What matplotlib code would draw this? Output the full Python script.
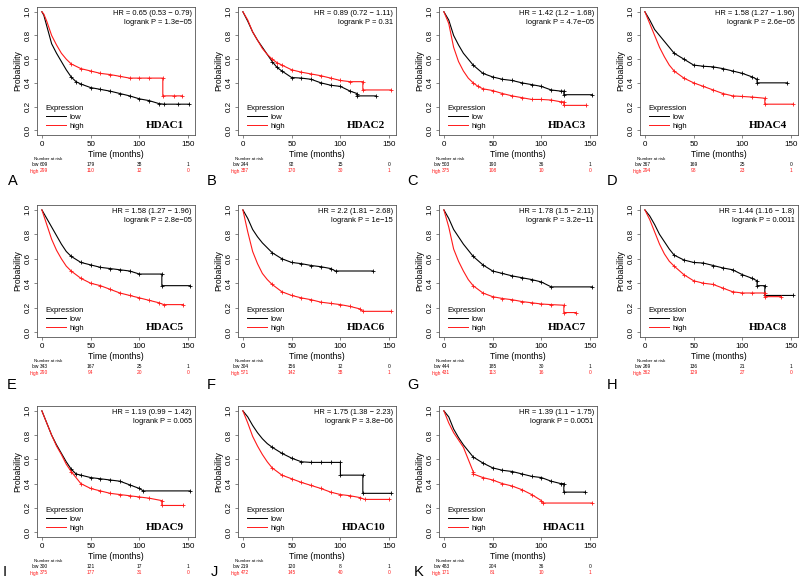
#!/usr/bin/env python3
# -*- coding: utf-8 -*-

import matplotlib
matplotlib.use('Agg')
import matplotlib.pyplot as plt
from matplotlib.lines import Line2D

# --- data -------------------------------------------------------------
genes = ['HDAC1', 'HDAC2', 'HDAC3', 'HDAC4', 'HDAC5', 'HDAC6',
         'HDAC7', 'HDAC8', 'HDAC9', 'HDAC10', 'HDAC11']
letters = ['A', 'B', 'C', 'D', 'E', 'F', 'G', 'H', 'I', 'J', 'K']

hr_text = ['0.65 (0.53 \u2212 0.79)', '0.89 (0.72 \u2212 1.11)', '1.42 (1.2 \u2212 1.68)',
           '1.58 (1.27 \u2212 1.96)', '1.58 (1.27 \u2212 1.96)', '2.2 (1.81 \u2212 2.68)',
           '1.78 (1.5 \u2212 2.11)', '1.44 (1.16 \u2212 1.8)', '1.19 (0.99 \u2212 1.42)',
           '1.75 (1.38 \u2212 2.23)', '1.39 (1.1 \u2212 1.75)']
p_text = ['1.3e\u221205', '0.31', '4.7e\u221205', '2.6e\u221205', '2.8e\u221205', '1e\u221215',
          '3.2e\u221211', '0.0011', '0.065', '3.8e\u221206', '0.0051']

risk_times = [0, 50, 100, 150]
risk_low = [[609, 179, 38, 1], [244, 92, 15, 0], [503, 190, 36, 1], [367, 169, 25, 0],
            [343, 167, 25, 1], [304, 156, 12, 0], [444, 185, 30, 1], [269, 136, 21, 1],
            [300, 121, 17, 1], [219, 120, 8, 1], [483, 204, 36, 0]]
risk_high = [[299, 110, 12, 0], [387, 170, 30, 1], [375, 108, 10, 0], [294, 98, 23, 1],
             [290, 94, 20, 0], [571, 142, 38, 1], [431, 113, 16, 0], [362, 129, 27, 0],
             [375, 177, 31, 0], [472, 145, 40, 0], [171, 81, 10, 1]]

low_t = [
    [0, 2, 5, 10, 15, 20, 25, 30, 35, 40, 50, 60, 70, 80, 90, 100, 110, 120, 125, 140, 151],
    [0, 5, 10, 15, 20, 25, 30, 35, 40, 50, 60, 70, 80, 90, 100, 110, 117, 117, 136],
    [0, 5, 10, 15, 20, 25, 30, 40, 50, 60, 70, 80, 90, 100, 110, 120, 123, 123, 152],
    [0, 5, 10, 15, 20, 25, 30, 40, 50, 60, 70, 80, 90, 100, 110, 115, 115, 146],
    [0, 5, 10, 15, 20, 25, 30, 40, 50, 60, 70, 80, 90, 100, 123, 123, 152],
    [0, 5, 10, 15, 20, 25, 30, 40, 50, 60, 70, 80, 90, 95, 133],
    [0, 5, 10, 15, 20, 25, 30, 40, 50, 60, 70, 80, 90, 100, 110, 152],
    [0, 5, 10, 15, 20, 25, 30, 40, 50, 60, 70, 80, 90, 100, 110, 115, 115, 123, 123, 152],
    [0, 5, 10, 15, 20, 25, 30, 35, 40, 50, 60, 70, 80, 90, 100, 104, 152],
    [0, 5, 10, 15, 20, 25, 30, 40, 50, 60, 70, 80, 90, 100, 100, 123, 123, 152],
    [0, 5, 10, 15, 20, 25, 30, 40, 50, 60, 70, 80, 90, 100, 110, 120, 123, 123, 145],
]
low_s = [
    [1, 0.97, 0.88, 0.73, 0.65, 0.58, 0.51, 0.45, 0.41, 0.39, 0.36, 0.345, 0.33, 0.31, 0.29, 0.265, 0.25, 0.225, 0.22, 0.22, 0.22],
    [1, 0.92, 0.83, 0.76, 0.70, 0.64, 0.58, 0.53, 0.50, 0.445, 0.44, 0.43, 0.40, 0.38, 0.37, 0.33, 0.31, 0.29, 0.29],
    [1, 0.93, 0.80, 0.72, 0.65, 0.60, 0.55, 0.48, 0.45, 0.43, 0.42, 0.40, 0.385, 0.37, 0.34, 0.33, 0.33, 0.30, 0.30],
    [1, 0.93, 0.85, 0.80, 0.75, 0.70, 0.65, 0.60, 0.55, 0.54, 0.535, 0.52, 0.50, 0.48, 0.45, 0.43, 0.40, 0.40],
    [1, 0.93, 0.86, 0.79, 0.72, 0.66, 0.62, 0.57, 0.55, 0.53, 0.52, 0.51, 0.50, 0.475, 0.475, 0.38, 0.38],
    [1, 0.93, 0.84, 0.78, 0.73, 0.69, 0.65, 0.60, 0.57, 0.56, 0.545, 0.535, 0.52, 0.50, 0.50],
    [1, 0.93, 0.84, 0.78, 0.72, 0.67, 0.62, 0.55, 0.50, 0.48, 0.46, 0.445, 0.43, 0.41, 0.37, 0.37],
    [1, 0.95, 0.88, 0.80, 0.74, 0.68, 0.63, 0.59, 0.57, 0.565, 0.545, 0.525, 0.51, 0.47, 0.44, 0.42, 0.38, 0.38, 0.30, 0.30],
    [1, 0.90, 0.80, 0.72, 0.65, 0.58, 0.52, 0.48, 0.47, 0.45, 0.44, 0.43, 0.42, 0.39, 0.36, 0.34, 0.34],
    [1, 0.95, 0.88, 0.82, 0.77, 0.73, 0.70, 0.65, 0.61, 0.58, 0.575, 0.575, 0.575, 0.575, 0.47, 0.47, 0.32, 0.32],
    [1, 0.95, 0.85, 0.78, 0.72, 0.67, 0.62, 0.57, 0.53, 0.51, 0.50, 0.48, 0.46, 0.45, 0.42, 0.40, 0.40, 0.33, 0.33],
]
high_t = [
    [0, 2, 5, 10, 15, 20, 25, 30, 40, 50, 60, 70, 80, 90, 100, 110, 124, 124, 135, 144],
    [0, 5, 10, 15, 20, 25, 30, 35, 40, 50, 60, 70, 80, 90, 100, 110, 123, 123, 152],
    [0, 5, 10, 15, 20, 25, 30, 35, 40, 50, 60, 70, 80, 90, 100, 110, 120, 123, 123, 146],
    [0, 5, 10, 15, 20, 25, 30, 40, 50, 60, 70, 80, 90, 100, 110, 123, 123, 152],
    [0, 5, 10, 15, 20, 25, 30, 40, 50, 60, 70, 80, 90, 100, 110, 120, 125, 145],
    [0, 5, 10, 15, 20, 25, 30, 40, 50, 60, 70, 80, 90, 100, 110, 120, 123, 152],
    [0, 5, 10, 15, 20, 25, 30, 40, 50, 60, 70, 80, 90, 100, 110, 123, 123, 135],
    [0, 5, 10, 15, 20, 25, 30, 40, 50, 60, 70, 80, 90, 100, 110, 123, 123, 140],
    [0, 5, 10, 15, 20, 25, 30, 40, 50, 60, 70, 80, 90, 100, 110, 123, 123, 145],
    [0, 5, 10, 15, 20, 25, 30, 40, 50, 60, 70, 80, 90, 100, 110, 120, 125, 150],
    [0, 5, 10, 15, 20, 25, 30, 30, 40, 50, 60, 70, 80, 90, 100, 102, 152],
]
high_s = [
    [1, 0.98, 0.92, 0.80, 0.72, 0.65, 0.60, 0.56, 0.52, 0.50, 0.48, 0.47, 0.455, 0.44, 0.44, 0.44, 0.44, 0.29, 0.29, 0.29],
    [1, 0.93, 0.83, 0.76, 0.69, 0.64, 0.60, 0.57, 0.55, 0.51, 0.49, 0.475, 0.46, 0.44, 0.42, 0.41, 0.41, 0.34, 0.34],
    [1, 0.90, 0.70, 0.58, 0.50, 0.44, 0.40, 0.37, 0.35, 0.335, 0.31, 0.29, 0.275, 0.26, 0.26, 0.255, 0.24, 0.24, 0.21, 0.21],
    [1, 0.90, 0.80, 0.70, 0.62, 0.55, 0.50, 0.44, 0.40, 0.37, 0.34, 0.31, 0.29, 0.285, 0.28, 0.27, 0.22, 0.22],
    [1, 0.88, 0.76, 0.67, 0.60, 0.54, 0.50, 0.44, 0.40, 0.38, 0.35, 0.32, 0.30, 0.28, 0.26, 0.24, 0.225, 0.225],
    [1, 0.82, 0.66, 0.56, 0.48, 0.43, 0.39, 0.33, 0.30, 0.28, 0.265, 0.245, 0.235, 0.225, 0.21, 0.19, 0.17, 0.17],
    [1, 0.86, 0.68, 0.58, 0.50, 0.43, 0.38, 0.32, 0.29, 0.275, 0.265, 0.25, 0.24, 0.23, 0.225, 0.22, 0.16, 0.16],
    [1, 0.92, 0.82, 0.72, 0.64, 0.58, 0.54, 0.47, 0.42, 0.40, 0.39, 0.36, 0.33, 0.32, 0.32, 0.32, 0.29, 0.29],
    [1, 0.90, 0.80, 0.71, 0.64, 0.56, 0.50, 0.40, 0.36, 0.34, 0.32, 0.31, 0.30, 0.29, 0.28, 0.26, 0.22, 0.22],
    [1, 0.90, 0.79, 0.71, 0.64, 0.58, 0.53, 0.47, 0.44, 0.41, 0.385, 0.36, 0.33, 0.31, 0.30, 0.285, 0.27, 0.27],
    [1, 0.90, 0.82, 0.76, 0.70, 0.60, 0.50, 0.48, 0.45, 0.43, 0.40, 0.38, 0.35, 0.31, 0.26, 0.24, 0.24],
]

# --- layout (pixels) --------------------------------------------------
W, H = 800, 578
col_left = [37, 238, 439, 640]
ax_w = 158
row_top = [7, 205, 406]
row_bot = [135, 337, 537]
letter_pos = [(8, 181), (207, 181), (407, 181), (607, 181),
              (7, 385), (207, 385), (407, 385), (607, 385),
              (3, 572), (211, 572), (414, 572)]

RED = '#ff1a1a'
FRAME = '#555555'


def censor_idx(times):
    # censor marks only where the curve has flattened out
    return [k for k, t in enumerate(times) if t >= 30]


def main():
    fig = plt.figure(figsize=(W / 100, H / 100), dpi=100)
    plt.rcParams['font.family'] = ['Liberation Sans', 'DejaVu Sans']

    for i, gene in enumerate(genes):
        r, c = divmod(i, 4)
        top, bot = row_top[r], row_bot[r]
        h = bot - top
        ax = fig.add_axes([col_left[c] / W, 1 - bot / H, ax_w / W, h / H])

        ax.plot(low_t[i], low_s[i], color='black', lw=0.8,
                marker='+', ms=2.5, mew=0.6, markevery=censor_idx(low_t[i]))
        ax.plot(high_t[i], high_s[i], color=RED, lw=0.8,
                marker='+', ms=2.5, mew=0.6, markevery=censor_idx(high_t[i]))

        ax.set_xlim(-5, 157)
        ax.set_ylim(-0.04, 1.04)
        ax.set_xticks([0, 50, 100, 150])
        ax.set_yticks([0, 0.2, 0.4, 0.6, 0.8, 1.0])
        ax.set_yticklabels(['0.0', '0.2', '0.4', '0.6', '0.8', '1.0'],
                           rotation=90, va='center')
        ax.tick_params(axis='both', labelsize=5.8, length=2.5, width=0.5,
                       pad=1.5, color=FRAME)
        for sp in ax.spines.values():
            sp.set_color(FRAME)
            sp.set_linewidth(0.6)

        ax.set_xlabel('Time (months)', fontsize=6.2, labelpad=1.5)
        ax.set_ylabel('Probability', fontsize=6.2, labelpad=1.5)

        ax.text(0.98, 0.975, 'HR = ' + hr_text[i] + '\nlogrank P = ' + p_text[i],
                transform=ax.transAxes, ha='right', va='top', fontsize=5.4,
                linespacing=1.3)
        ax.text(0.93, 0.075, gene, transform=ax.transAxes, ha='right', va='center',
                fontsize=8, fontweight='bold', family='Liberation Serif')

        handles = [Line2D([], [], color='black', lw=0.7),
                   Line2D([], [], color=RED, lw=0.7)]
        ax.legend(handles, ['low', 'high'], title='Expression',
                  loc='lower left', bbox_to_anchor=(0.02, 0.0),
                  frameon=False, fontsize=5.6, title_fontsize=5.6,
                  handlelength=2.6, labelspacing=0.15, borderpad=0.2,
                  handletextpad=0.5, alignment='left')

        # number at risk table
        def yfrac(px):
            return -px / h
        tr = ax.get_xaxis_transform()
        ax.text(6, yfrac(24), 'Number at risk', transform=tr, ha='center',
                va='center', fontsize=3.2, clip_on=False)
        ax.text(-3, yfrac(30), 'low', transform=tr, ha='right', va='center',
                fontsize=3.5, clip_on=False)
        ax.text(-3, yfrac(36), 'high', transform=tr, ha='right', va='center',
                fontsize=3.5, color=RED, clip_on=False)
        for t, nl, nh in zip(risk_times, risk_low[i], risk_high[i]):
            ax.text(t + (2 if t == 0 else 0), yfrac(30), str(nl), transform=tr,
                    ha='center', va='center', fontsize=3.5, clip_on=False)
            ax.text(t + (2 if t == 0 else 0), yfrac(36), str(nh), transform=tr,
                    ha='center', va='center', fontsize=3.5, color=RED,
                    clip_on=False)

        lx, ly = letter_pos[i]
        fig.text(lx / W, 1 - ly / H, letters[i], fontsize=10.5, ha='left',
                 va='center')

    fig.savefig('out.png', dpi=100)


if __name__ == '__main__':
    main()
